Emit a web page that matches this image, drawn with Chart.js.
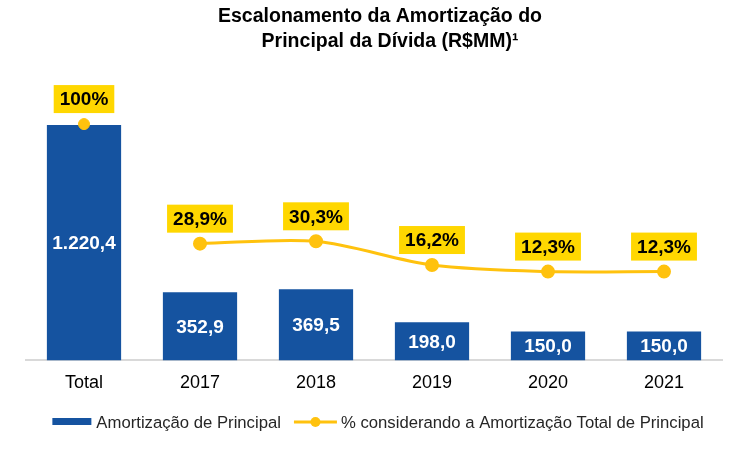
<!DOCTYPE html>
<html>
<head>
<meta charset="utf-8">
<script src="https://cdn.jsdelivr.net/npm/chart.js@4/dist/chart.umd.min.js"></script>
<style>
  html, body { margin: 0; padding: 0; background: #fff; }
  #wrap { width: 750px; height: 451px; }
</style>
</head>
<body>
<div id="wrap"><canvas id="myChart"></canvas></div>
<script>
const categories = ['Total', '2017', '2018', '2019', '2020', '2021']
const amortizacao = [1220.4, 352.9, 369.5, 198.0, 150.0, 150.0]
const percentual = [100, 28.9, 30.3, 16.2, 12.3, 12.3]
const titleLines = ['Escalonamento da Amortização do', 'Principal da Dívida (R$MM)¹']
const seriesNames = ['Amortização de Principal', '% considerando a Amortização Total de Principal']

const BLUE = '#1553a0'
const GOLD = '#ffc20e'
const BOX = '#ffd700'
const FONT = "'Liberation Sans', Arial, sans-serif"

// brazilian number format, e.g. 1.220,4
function fmt(v, dec) {
    let parts = v.toFixed(dec).split('.')
    parts[0] = parts[0].replace(/\B(?=(\d{3})+(?!\d))/g, '.')
    return parts.join(',')
}
function fmtPct(v) {
    return (Number.isInteger(v) ? String(v) : fmt(v, 1)) + '%'
}

// the Total point stands alone, the line only joins the years
const lineData = percentual.map((v, i) => i === 0 ? null : v)
const totalPoint = percentual.map((v, i) => i === 0 ? v : null)

const extrasPlugin = {
    id: 'extras',
    afterDatasetsDraw(chart) {
        const ctx = chart.ctx
        ctx.save()
        ctx.font = 'bold 19px ' + FONT
        ctx.textAlign = 'center'
        ctx.textBaseline = 'middle'
        // bar values, inside the bar
        chart.getDatasetMeta(0).data.forEach((bar, i) => {
            ctx.fillStyle = '#fff'
            ctx.fillText(fmt(amortizacao[i], 1), bar.x, (bar.y + bar.base) / 2 + 1)
        })
        // percent values in yellow boxes
        percentual.forEach((v, i) => {
            const pt = chart.getDatasetMeta(i === 0 ? 2 : 1).data[i]
            const txt = fmtPct(v)
            const w = ctx.measureText(txt).width + 12
            const h = 28
            const cy = pt.y - 25
            ctx.fillStyle = BOX
            ctx.fillRect(pt.x - w / 2, cy - h / 2, w, h)
            ctx.fillStyle = '#000'
            ctx.fillText(txt, pt.x, cy + 1)
        })
        ctx.restore()
    },
    afterDraw(chart) {
        const ctx = chart.ctx
        ctx.save()
        // title
        ctx.fillStyle = '#000'
        ctx.textAlign = 'center'
        ctx.textBaseline = 'middle'
        ctx.font = 'bold 19.5px ' + FONT
        ctx.fillText(titleLines[0], 380, 17)
        ctx.fillText(titleLines[1], 390, 42)

        // legend
        ctx.font = '16.7px ' + FONT
        ctx.textAlign = 'left'
        const w1 = ctx.measureText(seriesNames[0]).width
        const w2 = ctx.measureText(seriesNames[1]).width
        const total = 39 + 5 + w1 + 13 + 43 + 4 + w2
        let x = 378 - total / 2
        const y = 422
        ctx.fillStyle = BLUE
        ctx.fillRect(x, y - 4, 39, 7)
        x += 39 + 5
        ctx.fillStyle = '#262626'
        ctx.fillText(seriesNames[0], x, y + 1)
        x += w1 + 13
        ctx.strokeStyle = GOLD
        ctx.lineWidth = 3
        ctx.beginPath(); ctx.moveTo(x, y); ctx.lineTo(x + 43, y); ctx.stroke()
        ctx.fillStyle = GOLD
        ctx.beginPath(); ctx.arc(x + 21.5, y, 5, 0, Math.PI * 2); ctx.fill()
        x += 43 + 4
        ctx.fillStyle = '#262626'
        ctx.fillText(seriesNames[1], x, y + 1)
        ctx.restore()
    }
}

const ctx = document.getElementById('myChart').getContext('2d')
const myChart = new Chart(ctx, {
    type: 'bar',
    data: {
        labels: categories,
        datasets: [{
            type: 'bar',
            label: seriesNames[0],
            data: amortizacao,
            backgroundColor: BLUE,
            barPercentage: 0.64,
            categoryPercentage: 1,
            yAxisID: 'y',
            order: 2
        }, {
            type: 'line',
            label: seriesNames[1],
            data: lineData,
            borderColor: GOLD,
            backgroundColor: GOLD,
            borderWidth: 3,
            pointRadius: 5.5,
            pointBackgroundColor: GOLD,
            pointBorderColor: GOLD,
            tension: 0.3,
            yAxisID: 'y1',
            order: 0
        }, {
            type: 'line',
            label: seriesNames[1],
            data: totalPoint,
            showLine: false,
            pointRadius: 5.5,
            pointBackgroundColor: GOLD,
            pointBorderColor: GOLD,
            yAxisID: 'y1',
            order: 1
        }]
    },
    options: {
        responsive: true,
        maintainAspectRatio: false,
        animation: false,
        layout: { padding: { left: 26, right: 28, top: 80, bottom: 45 } },
        plugins: {
            title: { display: false },
            legend: { display: false },
            tooltip: { enabled: false }
        },
        scales: {
            x: {
                grid: { display: false, drawTicks: false },
                border: { display: true, color: '#d9d9d9', width: 2 },
                ticks: { color: '#000', font: { family: FONT, size: 18 }, padding: 12 }
            },
            y: {
                display: false,
                min: 0,
                max: 1454
            },
            y1: {
                display: false,
                min: -40.5,
                max: 126.2
            }
        }
    },
    plugins: [extrasPlugin]
})
</script>
</body>
</html>
